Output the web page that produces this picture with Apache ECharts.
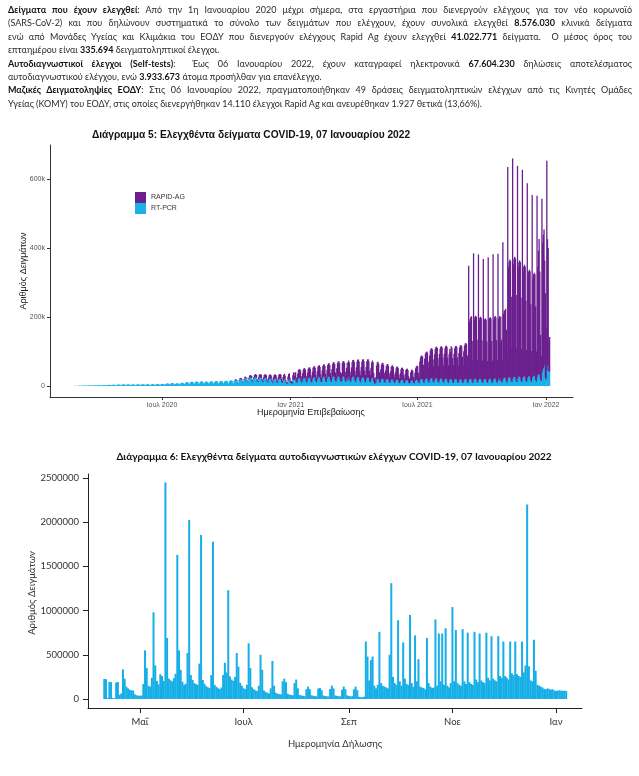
<!DOCTYPE html>
<html><head><meta charset="utf-8">
<script src="https://cdn.jsdelivr.net/npm/echarts@6/dist/echarts.min.js"></script>
<style>
html,body{margin:0;padding:0;background:#fff;width:639px;height:776px;overflow:hidden}
#chart{position:absolute;left:0;top:0;width:639px;height:776px}
#text{position:absolute;left:8px;top:3px;width:624px;font-family:Lato,'Noto Sans',sans-serif;font-size:9px;line-height:13.4px;color:#2b2b2b;z-index:2}
#text .j{text-align:justify;text-align-last:justify}
#text b{color:#111;font-weight:700}
</style></head><body>
<div id="chart"></div>
<div id="text">
<div class="j"><b>Δείγματα που έχουν ελεγχθεί</b>: Από την 1η Ιανουαρίου 2020 μέχρι σήμερα, στα εργαστήρια που διενεργούν ελέγχους για τον νέο κορωνοϊό</div>
<div class="j">(SARS-CoV-2) και που δηλώνουν συστηματικά το σύνολο των δειγμάτων που ελέγχουν, έχουν συνολικά ελεγχθεί <b>8.576.030</b> κλινικά δείγματα</div>
<div class="j">ενώ από Μονάδες Υγείας και Κλιμάκια του ΕΟΔΥ που διενεργούν ελέγχους Rapid Ag έχουν ελεγχθεί <b>41.022.771</b> δείγματα.&nbsp; Ο μέσος όρος του</div>
<div>επταημέρου είναι <b>335.694</b> δειγματοληπτικοί έλεγχοι.</div>
<div class="j"><b>Αυτοδιαγνωστικοί έλεγχοι (Self-tests)</b>:&nbsp; Έως 06 Ιανουαρίου 2022, έχουν καταγραφεί ηλεκτρονικά <b>67.604.230</b> δηλώσεις αποτελέσματος</div>
<div>αυτοδιαγνωστικού ελέγχου, ενώ <b>3.933.673</b> άτομα προσήλθαν για επανέλεγχο.</div>
<div class="j"><b>Μαζικές Δειγματοληψίες ΕΟΔΥ</b>: Στις 06 Ιανουαρίου 2022, πραγματοποιήθηκαν 49 δράσεις δειγματοληπτικών ελέγχων από τις Κινητές Ομάδες</div>
<div>Υγείας (ΚΟΜΥ) του ΕΟΔΥ, στις οποίες διενεργήθηκαν 14.110 έλεγχοι Rapid Ag και ανευρέθηκαν 1.927 θετικά (13,66%).</div>
</div>
<script>
// ---------- Chart 5 data (thousands of samples per day), weeks Mon..Sun ----------
const pcrStart = [2020, 1, 24];   // Mon 24 Feb 2020
const rapidStart = [2020, 9, 12]; // Mon 12 Oct 2020
const pcrWeeks = [
[null,null,0.2,0.3,0.3,0.2,0.1],[0.4,0.5,0.6,0.5,0.6,0.4,0.3],[0.7,0.9,1.0,1.1,0.9,0.6,0.5],[1.2,1.4,1.5,1.3,1.4,0.9,0.7],
[1.3,1.6,1.8,1.7,1.5,1.0,0.8],[1.9,2.2,2.4,2.1,2.3,1.4,1.1],[2.4,2.8,2.6,3.0,2.5,1.6,1.2],[2.6,3.1,3.3,2.9,3.2,1.8,1.3],
[3.0,3.4,3.6,3.5,3.1,2.0,1.5],[3.2,3.8,4.0,3.7,3.9,2.2,1.6],[3.5,4.1,4.3,3.9,4.0,2.4,1.8],[3.8,4.4,4.2,4.6,4.1,2.6,1.9],
[3.6,4.2,4.5,4.3,3.9,2.5,1.8],[3.9,4.6,4.8,4.4,4.2,2.7,2.0],[4.1,4.7,4.9,4.5,4.6,2.8,2.1],[4.0,4.8,5.0,4.7,4.4,2.9,2.2],
[4.3,5.1,5.3,4.9,4.8,3.0,2.3],[4.5,5.4,5.6,5.2,5.0,3.2,2.4],[4.8,5.9,6.2,5.8,5.5,3.6,2.7],[5.5,6.8,7.4,7.0,6.6,4.2,3.1],
[6.4,7.9,8.6,8.2,7.6,4.9,3.6],[6.0,7.4,7.8,7.5,7.0,4.5,3.3],[7.2,8.8,9.4,9.1,8.5,5.4,4.0],[8.6,10.4,11.2,10.8,10.1,6.4,4.7],
[9.4,11.6,12.3,11.9,11.0,7.0,5.1],[9.8,12.1,12.9,12.4,11.6,7.3,5.4],[10.2,12.5,13.3,12.8,12.0,7.6,5.6],[10.0,12.2,13.0,12.5,11.7,7.4,5.5],
[10.5,12.8,13.6,13.1,12.3,7.8,5.8],[10.9,13.4,14.1,13.7,12.8,8.1,6.0],[11.3,13.9,14.7,14.2,13.3,8.4,6.2],[11.8,14.5,15.3,14.8,13.9,8.8,6.5],
[12.6,15.4,16.3,15.8,14.8,9.3,6.9],[13.8,16.9,17.8,17.3,16.2,10.2,7.5],[15.6,19.1,20.2,19.6,18.4,11.6,8.5],[17.8,21.9,23.1,15.2,21.0,13.2,9.7],
[19.5,24.0,25.3,24.6,23.0,14.5,10.6],[20.3,25.0,26.4,25.6,24.0,15.1,11.1],[19.6,24.1,25.5,24.7,23.1,14.6,10.7],[18.2,22.4,23.6,22.9,21.5,13.5,9.9],
[17.0,20.9,22.1,21.4,20.1,12.6,9.3],[16.4,20.2,21.3,20.6,19.4,12.2,8.9],[16.8,20.6,21.8,21.1,19.8,12.4,9.1],[15.9,19.5,20.6,18.4,12.1,7.6,6.2],
[16.2,19.8,20.9,14.6,9.8,7.9,6.4],[17.4,21.4,16.8,21.9,20.5,12.9,9.5],[18.1,22.2,23.5,22.7,21.3,13.4,9.8],[18.6,22.9,24.1,23.4,21.9,13.8,10.1],
[19.0,23.4,24.6,23.9,22.4,14.1,10.3],[19.8,24.3,25.6,24.9,23.3,14.6,10.8],[20.4,25.1,26.4,25.7,24.0,15.1,11.1],[21.0,25.8,27.2,26.4,24.7,15.6,11.4],
[21.5,26.4,27.8,27.0,25.3,15.9,11.7],[21.8,26.8,28.2,27.4,25.7,16.1,11.9],[22.0,27.1,28.5,27.7,25.9,16.3,12.0],[14.6,26.6,28.0,27.2,25.5,16.0,11.8],
[21.2,26.1,16.8,26.7,25.0,15.7,11.6],[21.4,26.3,27.7,26.9,25.2,15.8,11.7],[20.8,25.6,26.9,26.1,24.5,15.4,11.3],[20.1,24.7,26.0,25.2,23.6,14.8,10.9],
[19.5,24.0,25.2,24.5,23.0,14.4,10.6],[18.6,22.9,24.1,23.4,12.8,8.1,6.1],[9.8,18.4,21.5,20.9,19.6,12.3,9.1],[16.9,20.8,21.9,21.2,19.9,12.5,9.2],
[16.1,19.8,20.8,20.2,18.9,11.9,8.7],[15.3,18.8,19.8,19.2,18.0,11.3,8.3],[14.6,17.9,18.9,18.3,17.1,10.8,7.9],[14.0,17.2,18.1,17.6,16.5,10.4,7.6],
[13.5,16.6,17.5,17.0,15.9,10.0,7.3],[9.6,14.8,16.8,16.3,15.3,9.6,7.0],[14.2,17.4,18.4,17.8,16.7,10.5,7.7],[16.1,19.8,20.9,20.2,19.0,11.9,8.8],
[17.3,21.3,22.4,21.7,20.4,12.8,9.4],[17.8,21.9,23.1,22.4,21.0,13.2,9.7],[17.5,21.5,22.7,22.0,20.6,13.0,9.5],[17.0,20.9,22.0,21.3,20.0,12.6,9.2],
[16.6,20.4,21.5,20.8,19.5,12.3,9.0],[16.0,19.7,20.6,20.1,18.8,11.8,8.7],[15.8,19.4,20.5,19.9,18.6,11.7,8.6],[15.5,19.1,20.1,19.5,18.3,11.5,8.4],
[15.9,19.6,20.6,20.0,18.7,11.8,8.6],[16.4,20.2,21.3,20.6,19.3,12.1,8.9],[16.8,20.6,21.7,21.1,19.7,12.4,9.1],[16.5,20.3,21.4,20.7,19.4,12.2,9.0],
[16.2,19.9,21.0,20.3,19.1,12.0,8.8],[16.7,20.5,21.6,20.9,19.6,12.3,9.0],[17.2,21.2,22.3,21.6,20.3,12.7,9.3],[17.9,22.0,23.2,14.8,21.1,13.2,9.7],
[19.0,23.4,24.6,23.9,22.4,14.1,10.3],[20.2,24.8,26.2,25.4,23.8,15.0,11.0],[21.1,26.0,27.4,26.5,24.9,15.6,11.5],[21.6,26.6,28.0,27.2,25.5,16.0,11.7],
[21.9,26.9,28.4,27.5,25.8,16.2,11.9],[22.4,27.6,29.0,28.2,26.4,16.6,12.2],[23.6,29.0,30.6,29.7,27.8,17.5,12.8],[26.5,32.6,34.3,33.3,31.2,19.6,14.4],
[38.0,46.7,52.4,58.6,61.2,24.5,18.6],[45.2,56.8,60.4,42.1,41.3]
];
const rapidWeeks = [
[0.8,1.2,1.5,1.6,1.4,0.9,0.6],[1.8,2.4,2.9,3.1,2.8,1.7,1.2],[2.6,3.4,4.0,1.9,3.6,2.2,1.5],[4.1,5.6,6.3,6.8,6.2,3.8,2.6],
[5.2,7.1,7.9,8.4,7.6,4.6,3.2],[6.0,8.1,9.0,9.6,8.7,5.3,3.7],[6.8,9.2,10.3,10.9,9.8,6.0,4.2],[7.3,9.9,11.1,11.7,10.6,6.5,4.5],
[7.9,10.7,11.9,12.6,11.4,7.0,4.9],[8.6,11.6,12.9,13.7,12.4,7.6,5.3],[9.8,13.3,14.8,11.6,5.2,4.1,3.8],[11.2,14.9,15.8,8.9,4.6,6.8,5.2],
[13.6,18.2,12.1,16.4,19.5,11.8,8.2],[17.4,23.2,25.4,26.1,24.0,14.6,10.3],[18.6,24.8,27.2,28.0,25.7,15.6,11.0],[19.9,26.5,29.1,29.9,27.5,16.7,11.8],
[21.3,28.4,31.1,32.0,29.4,17.9,12.6],[22.8,30.4,33.3,34.2,31.5,19.1,13.5],[24.1,32.1,35.2,36.1,33.2,20.2,14.2],[25.8,34.4,37.7,38.7,35.6,21.6,15.2],
[27.6,36.8,40.3,41.4,38.1,23.1,16.3],[29.1,38.8,42.5,43.7,40.2,24.4,17.2],[22.4,40.2,44.1,45.3,41.7,25.3,17.8],[31.4,41.9,26.3,47.2,43.4,26.3,18.5],
[32.5,43.4,47.5,48.8,44.9,27.3,19.2],[33.8,45.1,49.4,50.8,46.7,28.4,20.0],[34.7,46.3,50.7,52.1,47.9,29.1,20.5],[35.2,47.0,51.5,52.9,48.6,29.6,20.8],
[34.0,45.4,49.7,46.1,24.8,15.2,10.6],[16.4,40.8,47.6,49.0,45.1,27.4,19.3],[30.6,40.8,44.7,45.9,42.2,25.7,18.1],[28.8,38.4,42.1,43.2,39.7,24.2,17.0],
[27.0,36.0,39.4,40.5,37.2,22.7,16.0],[25.2,33.6,36.8,37.8,34.7,21.2,14.9],[23.6,31.5,34.5,35.4,32.6,19.8,14.0],[22.1,29.4,32.2,33.1,30.4,18.5,13.0],
[13.7,25.2,29.8,30.6,28.1,17.1,12.1],[24.5,33.8,38.6,41.2,40.3,27.6,19.4],[54.6,63.2,66.8,68.1,66.4,49.7,36.2],[62.7,72.5,76.4,78.0,76.1,57.2,41.8],
[70.2,81.0,85.3,87.1,84.9,63.9,46.6],[74.1,85.6,90.2,92.0,89.7,67.5,49.3],[75.8,87.4,92.0,93.9,91.6,68.9,50.3],[77.2,89.1,93.8,95.7,93.3,70.2,51.2],
[76.4,88.3,78.6,94.8,92.4,69.5,50.8],[78.0,90.1,94.8,96.7,94.3,71.0,51.8],[80.3,92.7,97.6,99.6,97.1,73.1,53.4],[84.5,97.6,102.7,104.8,102.2,76.9,56.2],
[332,165.8,172.4,178.6,183.2,118.4,64.8],[368,172.1,178.9,182.3,180.6,121.7,66.2],[365,170.4,176.8,180.2,177.5,119.8,65.1],[352,166.2,172.5,175.9,173.1,116.9,63.4],
[357,168.7,175.1,178.4,175.8,118.5,64.3],[365,171.4,177.9,181.2,178.5,120.3,65.7],[366,172.8,179.3,112.0,180.1,121.4,66.4],[398,186.2,193.1,196.7,201.5,148.6,84.2],
[615,321.4,334.2,341.6,338.8,243.7,96.3],[639,328.6,341.3,348.2,344.9,248.1,98.4],[617,318.4,330.6,337.1,333.9,240.2,95.8],[605,306.1,317.8,324.2,321.1,231.0,92.6],
[566,291.7,302.9,309.0,306.1,220.2,89.1],[530,282.3,293.1,299.0,296.2,213.1,87.4],[525,312.6,358.4,392.7,301.2,128.5,72.4],[505,368.2,386.5,395.1,302.6,244.8,146.3],
[608,369,340,84,101]
];
const chart5Ticks = ['2020-07-01','2021-01-01','2021-07-01','2022-01-01'];
const chart5TickLabels = ['Ιουλ 2020','Ιαν 2021','Ιουλ 2021','Ιαν 2022'];
const chart5YTicks = [0, 200, 400, 600];
const chart5YLabels = ['0', '200k', '400k', '600k'];

// ---------- Chart 6 data (thousands of declared self-tests per day), weeks Mon..Sun ----------
const selfStart = [2021, 3, 5]; // Mon 5 Apr 2021
const selfWeeks = [
[null,null,null,null,null,226,224],[14,194,190,12,9,186,192],[48,62,335,230,140,120,104],[98,96,52,42,38,36,40],
[170,550,350,150,140,240,980],[380,205,165,280,260,205,2450],[690,230,212,200,235,285,1630],[550,330,195,160,172,520,2025],
[270,215,180,168,160,400,1855],[215,172,145,132,125,270,1780],[160,138,122,112,130,272,410],[300,1230,255,220,205,250,520],
[365,182,150,122,112,160,630],[350,132,110,98,90,150,500],[330,96,80,70,62,120,430],[150,70,60,55,52,200,230],
[190,60,50,45,42,180,220],[120,46,40,36,32,110,140],[110,42,36,32,30,118,125],[100,40,34,30,30,112,150],
[120,40,35,31,30,105,140],[110,40,35,30,32,110,140],[100,25,20,22,25,650,480],[210,440,480,150,120,160,760],
[180,150,140,130,120,500,1310],[250,180,160,890,200,150,640],[230,170,160,950,180,140,720],[200,450,140,130,125,110,690],
[180,140,125,130,900,150,740],[200,740,160,800,150,130,180],[1040,200,780,180,160,150,790],[200,170,750,190,170,160,760],
[220,190,740,210,190,180,750],[240,210,710,230,210,200,710],[260,240,650,260,240,220,650],[290,270,650,280,260,250,650],
[300,380,2200,370,210,200,670],[320,160,150,140,130,115,110],[120,112,105,110,96,90,95],[98,95,92,94,90]
];
const chart6Ticks = ['2021-05-01','2021-07-01','2021-09-01','2021-11-01','2022-01-01'];
const chart6TickLabels = ['Μαΐ','Ιουλ','Σεπ','Νοε','Ιαν'];
const chart6YTicks = [0, 500, 1000, 1500, 2000, 2500];
const chart6YLabels = ['0','500000','1000000','1500000','2000000','2500000'];

// ---------- build ----------
function dayTs(start, i) { return new Date(start[0], start[1], start[2] + i).getTime(); }
function ts(s) { const p = s.split('-').map(Number); return new Date(p[0], p[1] - 1, p[2]).getTime(); }
const pcrDaily = pcrWeeks.flat();
const rapidDaily = rapidWeeks.flat();
const rapidOffset = Math.round((new Date(rapidStart[0], rapidStart[1], rapidStart[2]) - new Date(pcrStart[0], pcrStart[1], pcrStart[2])) / 86400000);
const pcrData = pcrDaily.map((v, i) => [dayTs(pcrStart, i), v]);
const rapidData = pcrDaily.map((_, i) => [dayTs(pcrStart, i), i >= rapidOffset ? rapidDaily[i - rapidOffset] : null]);
const selfData = selfWeeks.flat().map((v, i) => [dayTs(selfStart, i), v]);

const t5 = chart5Ticks.map(ts), t6 = chart6Ticks.map(ts);
const ARIAL = '"Liberation Sans", Arial, sans-serif';
const LATO = 'Lato, "Noto Sans", sans-serif';
const PURPLE = '#6a1f8e', BLUE5 = '#1ab2e6', BLUE6 = '#15aee6';
const X5MIN = new Date(2020, 0, 22, 22).getTime(), X5MAX = new Date(2022, 1, 8, 14).getTime();
const X6MIN = new Date(2021, 2, 31, 10).getTime(), X6MAX = new Date(2022, 0, 16, 7).getTime();

const chart = echarts.init(document.getElementById('chart'));
chart.setOption({
  animation: false,
  backgroundColor: '#fff',
  grid: [
    { left: 50, right: 66, top: 145, height: 252, containLabel: false },
    { left: 88, right: 57, top: 474, height: 234, containLabel: false }
  ],
  legend: {
    data: ['RAPID-AG', 'RT-PCR'], orient: 'vertical', left: 130, top: 187,
    itemWidth: 11, itemHeight: 11, itemGap: 0, icon: 'rect', selectedMode: false,
    textStyle: { fontSize: 7, color: '#333', fontFamily: ARIAL }
  },
  xAxis: [
    { // data axis for chart 5 (time, so the two series stack on y)
      type: 'time', gridIndex: 0, position: 'bottom', min: X5MIN, max: X5MAX,
      axisLine: { onZero: false, lineStyle: { color: '#333', width: 1 } },
      axisTick: { show: false }, axisLabel: { show: false }, splitLine: { show: false }
    },
    { // tick/label axis for chart 5
      type: 'value', gridIndex: 0, position: 'bottom', offset: 0, scale: true, min: X5MIN, max: X5MAX,
      axisLine: { show: false, onZero: false },
      axisTick: { customValues: t5, length: 3, lineStyle: { color: '#333' } },
      axisLabel: { customValues: t5, formatter: v => chart5TickLabels[t5.indexOf(v)] ?? '', fontSize: 7, color: '#555', fontFamily: ARIAL, margin: 5 },
      splitLine: { show: false }
    },
    {
      type: 'value', gridIndex: 1, position: 'bottom', scale: true, min: X6MIN, max: X6MAX,
      axisLine: { onZero: false, lineStyle: { color: '#222', width: 1 } },
      axisTick: { customValues: t6, length: 5, lineStyle: { color: '#222' } },
      axisLabel: { customValues: t6, formatter: v => chart6TickLabels[t6.indexOf(v)] ?? '', fontSize: 9.5, color: '#333', fontFamily: LATO, margin: 9 },
      splitLine: { show: false }
    }
  ],
  yAxis: [
    {
      type: 'value', gridIndex: 0, min: -32, max: 699,
      axisLine: { show: true, onZero: false, lineStyle: { color: '#333', width: 1 } },
      axisTick: { show: true, customValues: chart5YTicks, length: 3, lineStyle: { color: '#333' } },
      axisLabel: { customValues: chart5YTicks, formatter: v => chart5YLabels[chart5YTicks.indexOf(v)] ?? '', fontSize: 7, color: '#555', fontFamily: ARIAL, margin: 5 },
      splitLine: { show: false }
    },
    {
      type: 'value', gridIndex: 1, min: -102, max: 2545,
      axisLine: { show: true, onZero: false, lineStyle: { color: '#222', width: 1 } },
      axisTick: { show: true, customValues: chart6YTicks, length: 5, lineStyle: { color: '#222' } },
      axisLabel: { customValues: chart6YTicks, formatter: v => chart6YLabels[chart6YTicks.indexOf(v)] ?? '', fontSize: 9.5, color: '#333', fontFamily: LATO, margin: 9 },
      splitLine: { show: false }
    }
  ],
  graphic: [
    { type: 'text', x: 251, y: 135, style: { text: 'Διάγραμμα 5: Ελεγχθέντα δείγματα COVID-19, 07 Ιανουαρίου 2022', align: 'center', verticalAlign: 'middle', fontSize: 10.2, fontWeight: 'bold', fontFamily: ARIAL, fill: '#111' } },
    { type: 'text', x: 311, y: 413, style: { text: 'Ημερομηνία Επιβεβαίωσης', align: 'center', verticalAlign: 'middle', fontSize: 9, fontFamily: ARIAL, fill: '#222' } },
    { type: 'text', x: 24, y: 271, rotation: Math.PI / 2, style: { text: 'Αριθμός Δειγμάτων', align: 'center', verticalAlign: 'middle', fontSize: 9, fontFamily: ARIAL, fill: '#222' } },
    { type: 'text', x: 334, y: 457, style: { text: 'Διάγραμμα 6: Ελεγχθέντα δείγματα αυτοδιαγνωστικών ελέγχων COVID-19, 07 Ιανουαρίου 2022', align: 'center', verticalAlign: 'middle', fontSize: 10, fontWeight: 'bold', fontFamily: LATO, fill: '#111' } },
    { type: 'text', x: 335, y: 744, style: { text: 'Ημερομηνία Δήλωσης', align: 'center', verticalAlign: 'middle', fontSize: 9.5, fontFamily: LATO, fill: '#333' } },
    { type: 'text', x: 32, y: 593, rotation: Math.PI / 2, style: { text: 'Αριθμός Δειγμάτων', align: 'center', verticalAlign: 'middle', fontSize: 9.5, fontFamily: LATO, fill: '#333' } }
  ],
  series: [
    { name: 'RT-PCR', type: 'bar', xAxisIndex: 0, yAxisIndex: 0, stack: 'c5', data: pcrData, barWidth: 1.3, itemStyle: { color: BLUE5 } },
    { name: 'RAPID-AG', type: 'bar', xAxisIndex: 0, yAxisIndex: 0, stack: 'c5', data: rapidData, barWidth: 1.3, itemStyle: { color: PURPLE } },
    { name: 'Self-tests', type: 'bar', xAxisIndex: 2, yAxisIndex: 1, data: selfData, barWidth: 2, itemStyle: { color: BLUE6 } }
  ]
});
</script>
</body></html>
